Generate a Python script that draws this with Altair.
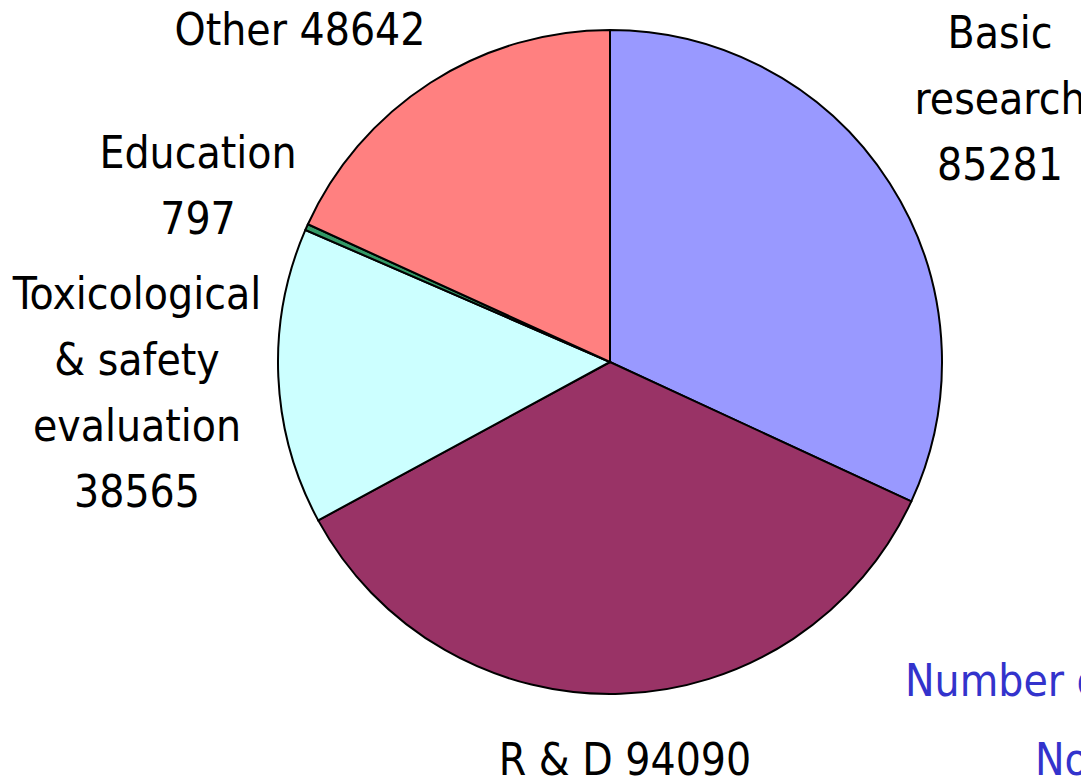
import altair as alt
import pandas as pd

categories = ["Basic research", "R & D", "Toxicological & safety evaluation", "Education", "Other"]
values = [85281, 94090, 38565, 797, 48642]
colors = ["#9999FF", "#993366", "#CCFFFF", "#339966", "#FF8080"]

label_lines = {
    "Basic research": ["Basic", "research", "85281"],
    "R & D": ["R & D 94090"],
    "Toxicological & safety evaluation": ["Toxicological", "& safety", "evaluation", "38565"],
    "Education": ["Education", "797"],
    "Other": ["Other 48642"],
}

df = pd.DataFrame({"category": categories, "value": values, "order": list(range(len(categories)))})

FONT = "Arial Narrow, Liberation Sans Narrow, DejaVu Sans Condensed, sans-serif"
FS = 44
LH = 66

pie = alt.Chart(df).mark_arc(stroke="black", strokeWidth=2, radius=332).encode(
    theta=alt.Theta("value:Q", stack=True),
    order=alt.Order("order:Q"),
    color=alt.Color("category:N", scale=alt.Scale(domain=categories, range=colors), legend=None),
    x=alt.value(602),
    y=alt.value(354),
)

# label anchor (center x, middle y of first line) in chart coordinates
anchors = {
    "Basic research": (992, 27),
    "R & D": (617, 754),
    "Toxicological & safety evaluation": (129, 288),
    "Education": (190, 147),
    "Other": (292, 24),
}

layers = [pie]
for cat in categories:
    ax, ay = anchors[cat]
    lines = label_lines[cat]
    ldf = pd.DataFrame({"t": ["\n".join(lines)]})
    layers.append(
        alt.Chart(ldf).mark_text(
            font=FONT, fontSize=FS, lineHeight=LH, lineBreak="\n",
            align="center", baseline="middle", color="black"
        ).encode(text="t:N", x=alt.value(ax), y=alt.value(ay))
    )

notes = pd.DataFrame({"t": ["Number of animals used"]})
layers.append(
    alt.Chart(notes).mark_text(font=FONT, fontSize=FS, align="left", baseline="middle", color="#3333CC")
    .encode(text="t:N", x=alt.value(897), y=alt.value(675))
)
notes2 = pd.DataFrame({"t": ["No. of procedures"]})
layers.append(
    alt.Chart(notes2).mark_text(font=FONT, fontSize=FS, align="left", baseline="middle", color="#3333CC")
    .encode(text="t:N", x=alt.value(1027), y=alt.value(754))
)

chart = alt.layer(*layers).properties(
    width=1073, height=768, autosize=alt.AutoSizeParams(type="none"), padding=0
).configure_view(stroke=None)

chart.save("out.html", embed_options={"renderer": "svg", "actions": False})
